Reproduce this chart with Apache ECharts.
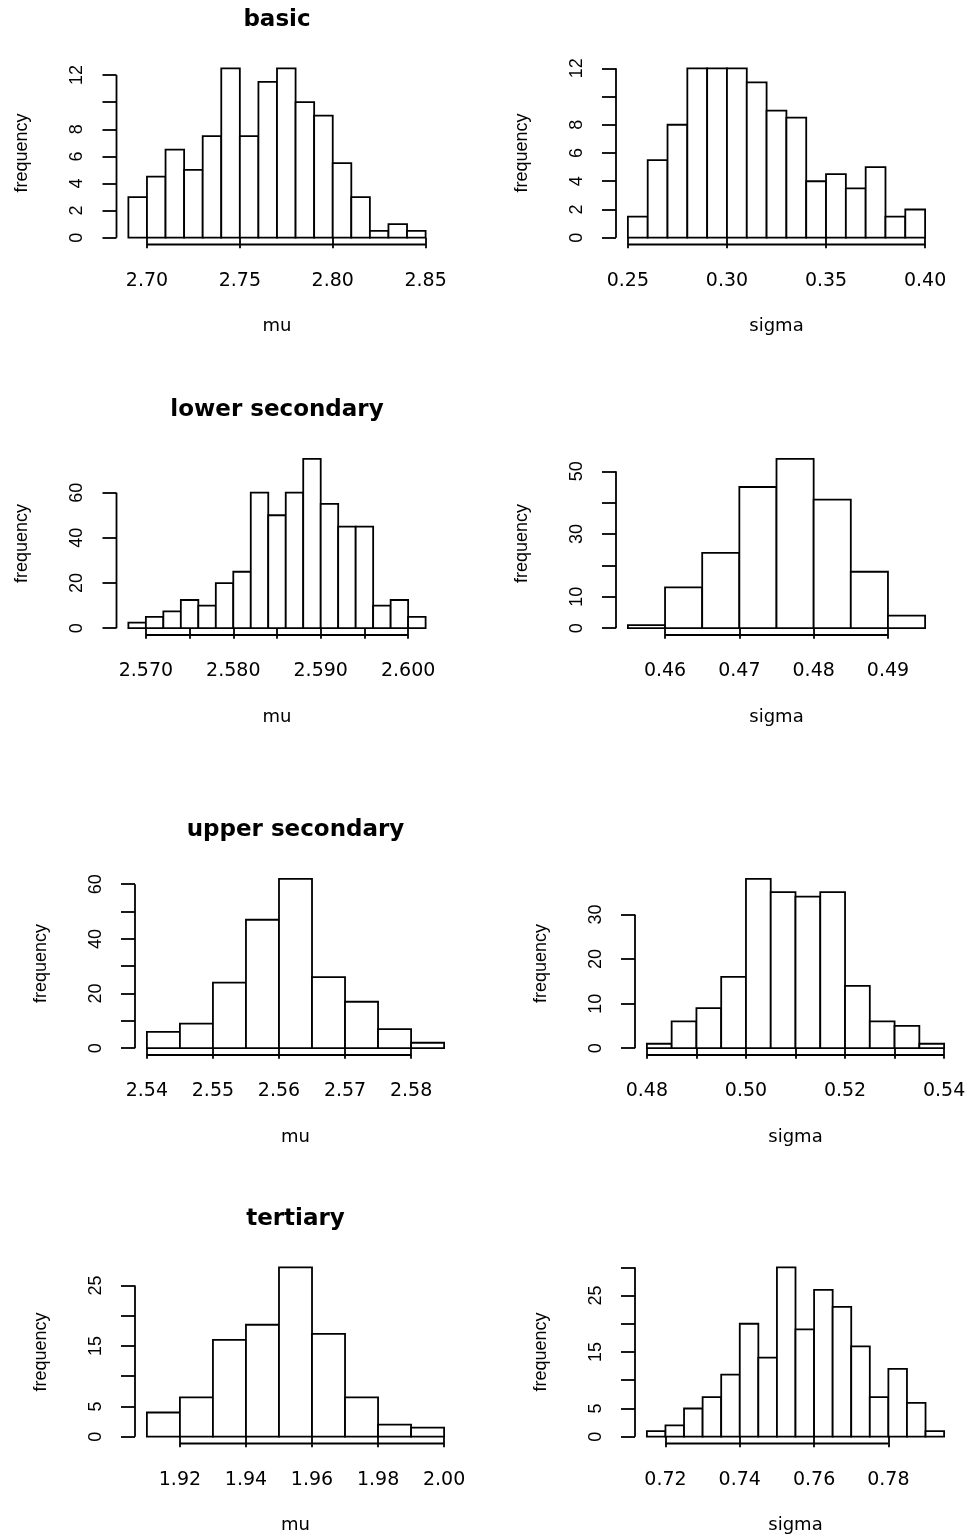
<!DOCTYPE html>
<html>
<head>
<meta charset="utf-8">
<script src="https://cdn.jsdelivr.net/npm/echarts@6/dist/echarts.min.js"></script>
<style>
html,body{margin:0;padding:0;background:#fff;}
#chart{width:970px;height:1538px;}
</style>
</head>
<body>
<div id="chart"></div>
<script>
// ---------------- data ----------------
const groupTitles = ['basic', 'lower secondary', 'upper secondary', 'tertiary'];

const basicMuBreaks = [2.69,2.70,2.71,2.72,2.73,2.74,2.75,2.76,2.77,2.78,2.79,2.80,2.81,2.82,2.83,2.84,2.85];
const basicMuDensity = [3,4.5,6.5,5,7.5,12.5,7.5,11.5,12.5,10,9,5.5,3,0.5,1,0.5];
const basicMuXTicks = [2.70,2.75,2.80,2.85];
const basicMuXLabels = ['2.70','2.75','2.80','2.85'];
const basicMuYTicks = [0,2,4,6,8,10,12];
const basicMuYLabels = [0,2,4,6,8,12];

const basicSigmaBreaks = [0.25,0.26,0.27,0.28,0.29,0.30,0.31,0.32,0.33,0.34,0.35,0.36,0.37,0.38,0.39,0.40];
const basicSigmaDensity = [1.5,5.5,8,12,12,12,11,9,8.5,4,4.5,3.5,5,1.5,2];
const basicSigmaXTicks = [0.25,0.30,0.35,0.40];
const basicSigmaXLabels = ['0.25','0.30','0.35','0.40'];
const basicSigmaYTicks = [0,2,4,6,8,10,12];
const basicSigmaYLabels = [0,2,4,6,8,12];

const lowerMuBreaks = [2.568,2.570,2.572,2.574,2.576,2.578,2.580,2.582,2.584,2.586,2.588,2.590,2.592,2.594,2.596,2.598,2.600,2.602];
const lowerMuDensity = [2.5,5,7.5,12.5,10,20,25,60,50,60,75,55,45,45,10,12.5,5];
const lowerMuXTicks = [2.570,2.575,2.580,2.585,2.590,2.595,2.600];
const lowerMuXLabels = ['2.570','2.580','2.590','2.600'];
const lowerMuYTicks = [0,20,40,60];
const lowerMuYLabels = [0,20,40,60];

const lowerSigmaBreaks = [0.455,0.460,0.465,0.470,0.475,0.480,0.485,0.490,0.495];
const lowerSigmaDensity = [1,13,24,45,54,41,18,4];
const lowerSigmaXTicks = [0.46,0.47,0.48,0.49];
const lowerSigmaXLabels = ['0.46','0.47','0.48','0.49'];
const lowerSigmaYTicks = [0,10,20,30,40,50];
const lowerSigmaYLabels = [0,10,30,50];

const upperMuBreaks = [2.540,2.545,2.550,2.555,2.560,2.565,2.570,2.575,2.580,2.585];
const upperMuDensity = [6,9,24,47,62,26,17,7,2];
const upperMuXTicks = [2.54,2.55,2.56,2.57,2.58];
const upperMuXLabels = ['2.54','2.55','2.56','2.57','2.58'];
const upperMuYTicks = [0,10,20,30,40,50,60];
const upperMuYLabels = [0,20,40,60];

const upperSigmaBreaks = [0.480,0.485,0.490,0.495,0.500,0.505,0.510,0.515,0.520,0.525,0.530,0.535,0.540];
const upperSigmaDensity = [1,6,9,16,38,35,34,35,14,6,5,1];
const upperSigmaXTicks = [0.48,0.49,0.50,0.51,0.52,0.53,0.54];
const upperSigmaXLabels = ['0.48','0.50','0.52','0.54'];
const upperSigmaYTicks = [0,10,20,30];
const upperSigmaYLabels = [0,10,20,30];

const tertiaryMuBreaks = [1.91,1.92,1.93,1.94,1.95,1.96,1.97,1.98,1.99,2.00];
const tertiaryMuDensity = [4,6.5,16,18.5,28,17,6.5,2,1.5];
const tertiaryMuXTicks = [1.92,1.94,1.96,1.98,2.00];
const tertiaryMuXLabels = ['1.92','1.94','1.96','1.98','2.00'];
const tertiaryMuYTicks = [0,5,10,15,20,25];
const tertiaryMuYLabels = [0,5,15,25];

const tertiarySigmaBreaks = [0.715,0.720,0.725,0.730,0.735,0.740,0.745,0.750,0.755,0.760,0.765,0.770,0.775,0.780,0.785,0.790,0.795];
const tertiarySigmaDensity = [1,2,5,7,11,20,14,30,19,26,23,16,7,12,6,1];
const tertiarySigmaXTicks = [0.72,0.74,0.76,0.78];
const tertiarySigmaXLabels = ['0.72','0.74','0.76','0.78'];
const tertiarySigmaYTicks = [0,5,10,15,20,25,30];
const tertiarySigmaYLabels = [0,5,15,25];

// ---------------- panels built from the arrays ----------------
const panels = [
  {row:0,col:0,xName:'mu',breaks:basicMuBreaks,dens:basicMuDensity,xt:basicMuXTicks,xl:basicMuXLabels,yt:basicMuYTicks,yl:basicMuYLabels},
  {row:0,col:1,xName:'sigma',breaks:basicSigmaBreaks,dens:basicSigmaDensity,xt:basicSigmaXTicks,xl:basicSigmaXLabels,yt:basicSigmaYTicks,yl:basicSigmaYLabels},
  {row:1,col:0,xName:'mu',breaks:lowerMuBreaks,dens:lowerMuDensity,xt:lowerMuXTicks,xl:lowerMuXLabels,yt:lowerMuYTicks,yl:lowerMuYLabels},
  {row:1,col:1,xName:'sigma',breaks:lowerSigmaBreaks,dens:lowerSigmaDensity,xt:lowerSigmaXTicks,xl:lowerSigmaXLabels,yt:lowerSigmaYTicks,yl:lowerSigmaYLabels},
  {row:2,col:0,xName:'mu',breaks:upperMuBreaks,dens:upperMuDensity,xt:upperMuXTicks,xl:upperMuXLabels,yt:upperMuYTicks,yl:upperMuYLabels},
  {row:2,col:1,xName:'sigma',breaks:upperSigmaBreaks,dens:upperSigmaDensity,xt:upperSigmaXTicks,xl:upperSigmaXLabels,yt:upperSigmaYTicks,yl:upperSigmaYLabels},
  {row:3,col:0,xName:'mu',breaks:tertiaryMuBreaks,dens:tertiaryMuDensity,xt:tertiaryMuXTicks,xl:tertiaryMuXLabels,yt:tertiaryMuYTicks,yl:tertiaryMuYLabels},
  {row:3,col:1,xName:'sigma',breaks:tertiarySigmaBreaks,dens:tertiarySigmaDensity,xt:tertiarySigmaXTicks,xl:tertiarySigmaXLabels,yt:tertiarySigmaYTicks,yl:tertiarySigmaYLabels}
];

// ---------------- layout ----------------
const colLefts = [[116.5, 616], [116.5, 616], [135, 635], [135, 635]];
const rowTops = [61.5, 452, 872, 1260.5];
const plotW = 321, plotH = 183;
const LW = 1.8;

const grids = [], xAxes = [], yAxes = [], series = [], titles = [];

panels.forEach((p, i) => {
  const left = colLefts[p.row][p.col];
  const top = rowTops[p.row];
  grids.push({left: left, top: top, width: plotW, height: plotH, containLabel: false});

  const bMin = p.breaks[0], bMax = p.breaks[p.breaks.length - 1];
  const xr = bMax - bMin;
  const yMax = Math.max.apply(null, p.dens);
  const xl = p.xl;

  xAxes.push({
    type: 'value', gridIndex: i,
    min: bMin - 0.04 * xr, max: bMax + 0.04 * xr,
    axisLine: {show: false},
    splitLine: {show: false},
    axisTick: {show: true, customValues: p.xt, length: 10.5, lineStyle: {color: '#000', width: LW}},
    axisLabel: {
      show: true, customValues: xl.map(Number), margin: 27,
      fontFamily: 'DejaVu Sans', fontSize: 19, color: '#000',
      formatter: function (v) {
        for (let k = 0; k < xl.length; k++) if (Math.abs(Number(xl[k]) - v) < 1e-9) return xl[k];
        return '';
      }
    },
    name: p.xName, nameLocation: 'middle', nameGap: 73,
    nameTextStyle: {fontFamily: 'DejaVu Sans', fontSize: 18, color: '#000'}
  });

  yAxes.push({
    type: 'value', gridIndex: i,
    min: -0.04 * yMax, max: 1.04 * yMax,
    axisLine: {show: false},
    splitLine: {show: false},
    axisTick: {show: true, customValues: p.yt, length: 14, lineStyle: {color: '#000', width: LW}},
    axisLabel: {
      show: true, customValues: p.yl, rotate: 90, margin: 30,
      fontFamily: 'Liberation Sans', fontSize: 18, color: '#000'
    },
    name: 'frequency', nameLocation: 'middle', nameGap: 85, nameRotate: 90,
    nameTextStyle: {fontFamily: 'Liberation Sans', fontSize: 18, color: '#000'}
  });

  // histogram bars
  series.push({
    type: 'custom', xAxisIndex: i, yAxisIndex: i, clip: false, silent: true,
    data: p.dens.map((d, k) => [p.breaks[k], p.breaks[k + 1], d]),
    encode: {x: [0, 1], y: 2},
    renderItem: function (params, api) {
      const a = api.coord([api.value(0), api.value(2)]);
      const b = api.coord([api.value(1), 0]);
      return {
        type: 'rect',
        shape: {x: a[0], y: a[1], width: b[0] - a[0], height: b[1] - a[1]},
        style: {fill: '#fff', stroke: '#000', lineWidth: LW}
      };
    }
  });

  // R-style axis lines (span first to last tick)
  const xt = p.xt, yt = p.yt;
  series.push({
    type: 'custom', xAxisIndex: i, yAxisIndex: i, clip: false, silent: true,
    data: [[xt[0], yt[0]]],
    renderItem: function (params, api) {
      const cs = params.coordSys;
      const bottom = cs.y + cs.height;
      const leftX = cs.x;
      const x0 = api.coord([xt[0], 0])[0];
      const x1 = api.coord([xt[xt.length - 1], 0])[0];
      const y0 = api.coord([0, yt[0]])[1];
      const y1 = api.coord([0, yt[yt.length - 1]])[1];
      return {
        type: 'group',
        children: [
          {type: 'line', shape: {x1: x0, y1: bottom, x2: x1, y2: bottom}, style: {stroke: '#000', lineWidth: LW}},
          {type: 'line', shape: {x1: leftX, y1: y0, x2: leftX, y2: y1}, style: {stroke: '#000', lineWidth: LW}}
        ]
      };
    }
  });

  if (p.col === 0) {
    titles.push({
      text: groupTitles[p.row],
      left: left + plotW / 2, top: top - 53, textAlign: 'center', padding: 0,
      textStyle: {fontFamily: 'DejaVu Sans', fontWeight: 'bold', fontSize: 23, color: '#000'}
    });
  }
});

const chart = echarts.init(document.getElementById('chart'), null, {renderer: 'canvas'});
chart.setOption({
  backgroundColor: '#fff',
  animation: false,
  title: titles,
  grid: grids,
  xAxis: xAxes,
  yAxis: yAxes,
  series: series
});
</script>
</body>
</html>
